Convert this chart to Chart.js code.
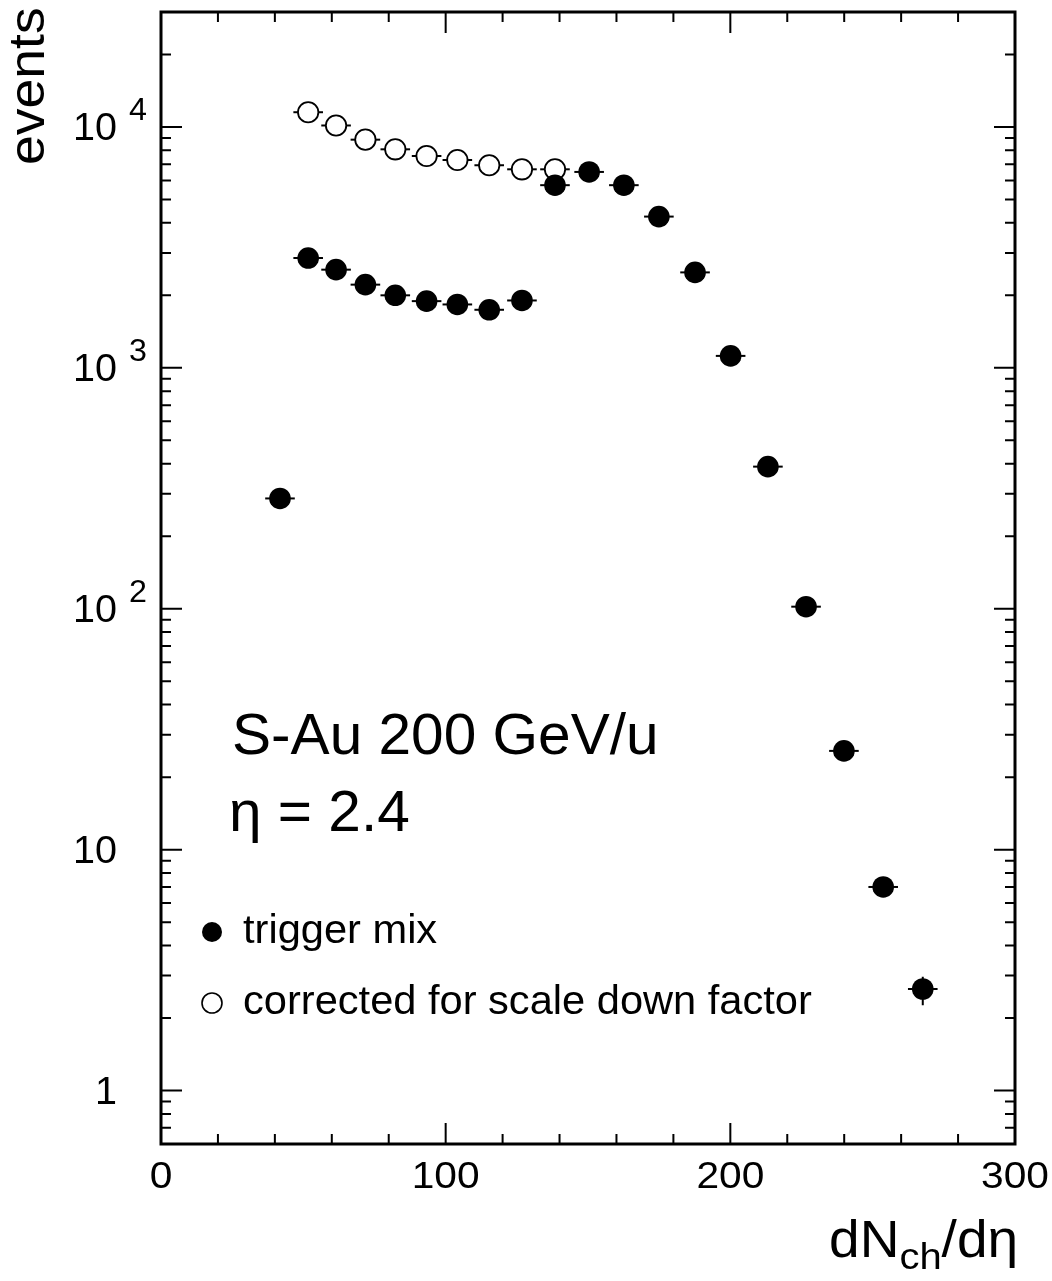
<!DOCTYPE html>
<html>
<head>
<meta charset="utf-8">
<script src="https://cdn.jsdelivr.net/npm/chart.js@4.4.1/dist/chart.umd.min.js"></script>
<style>
  html, body { margin: 0; padding: 0; background: #fff; overflow: hidden; }
  canvas { display: block; }
</style>
</head>
<body>
<canvas id="chartEvents" width="1052" height="1281"></canvas>
<script>
// trigger mix (filled circles)
const triggerX = [41.8, 51.7, 61.5, 71.8, 82.3, 93.3, 104.1, 115.3, 126.8, 138.4,
                  150.4, 162.6, 174.9, 187.6, 200.1, 213.2, 226.6, 239.9, 253.7, 267.6];
const triggerY = [287, 2857, 2556, 2215, 2000, 1892, 1833, 1742, 1904, 5731,
                  6505, 5731, 4245, 2490, 1121, 389, 102, 25.7, 7.0, 2.64];
// vertical errors, only visible on the last point
const triggerYLow  = [null, null, null, null, null, null, null, null, null, null,
                      null, null, null, null, null, null, null, null, null, 2.26];
const triggerYHigh = [null, null, null, null, null, null, null, null, null, null,
                      null, null, null, null, null, null, null, null, null, 2.97];

// corrected for scale down factor (open circles)
const correctedX = [51.7, 61.5, 71.8, 82.3, 93.3, 104.1, 115.3, 126.8, 138.4];
const correctedY = [11510, 10140, 8855, 8075, 7574, 7292, 6934, 6670, 6670];

const binHalfWidth = 5.2;

// axes
const xTickValues = [0, 100, 200, 300];
const xTickLabels = ['0', '100', '200', '300'];
const xMinorStep = 20;
const yTickValues = [1, 10, 100, 1000, 10000];
const yTickBase = ['1', '10', '10', '10', '10'];
const yTickExp = ['', '', '2', '3', '4'];

const FONT = '"Liberation Sans", Arial, Helvetica, sans-serif';

function drawText(ctx, str, x, y, size, align, wide) {
    ctx.font = size + 'px ' + FONT;
    const w = ctx.measureText(str).width * wide;
    let x0 = x;
    if (align === 'right') x0 = x - w;
    if (align === 'center') x0 = x - w / 2;
    ctx.save();
    ctx.translate(x0, y);
    ctx.scale(wide, 1);
    ctx.textAlign = 'left';
    ctx.textBaseline = 'alphabetic';
    ctx.fillStyle = '#000';
    ctx.fillText(str, 0, 0);
    ctx.restore();
    return w;
}

const errorBars = {
    id: 'errorBars',
    beforeDatasetsDraw(chart) {
        const ctx = chart.ctx, xs = chart.scales.x, ys = chart.scales.y;
        ctx.save();
        ctx.strokeStyle = '#000';
        ctx.lineWidth = 2;
        chart.data.datasets.forEach(ds => {
            ds.data.forEach(p => {
                const py = ys.getPixelForValue(p.y);
                ctx.beginPath();
                ctx.moveTo(xs.getPixelForValue(p.x - binHalfWidth), py);
                ctx.lineTo(xs.getPixelForValue(p.x + binHalfWidth), py);
                if (p.yLow != null) {
                    const px = xs.getPixelForValue(p.x);
                    ctx.moveTo(px, ys.getPixelForValue(p.yLow));
                    ctx.lineTo(px, ys.getPixelForValue(p.yHigh));
                }
                ctx.stroke();
            });
        });
        ctx.restore();
    }
};

const frame = {
    id: 'frame',
    afterDraw(chart) {
        const ctx = chart.ctx, a = chart.chartArea;
        const xs = chart.scales.x, ys = chart.scales.y;
        ctx.save();
        ctx.strokeStyle = '#000';

        // ticks
        ctx.lineWidth = 2;
        ctx.beginPath();
        for (let v = xs.min; v <= xs.max; v += xMinorStep) {
            const px = xs.getPixelForValue(v);
            const len = xTickValues.includes(v) ? 21 : 10;
            ctx.moveTo(px, a.bottom); ctx.lineTo(px, a.bottom - len);
            ctx.moveTo(px, a.top); ctx.lineTo(px, a.top + len);
        }
        for (let d = 0.1; d <= 10000; d *= 10) {
            for (let m = 1; m <= 9; m++) {
                const v = Math.round(m * d * 1000) / 1000;
                if (v <= ys.min || v >= ys.max) continue;
                const py = ys.getPixelForValue(v);
                const len = m === 1 ? 21 : 10;
                ctx.moveTo(a.left, py); ctx.lineTo(a.left + len, py);
                ctx.moveTo(a.right, py); ctx.lineTo(a.right - len, py);
            }
        }
        ctx.stroke();

        // frame
        ctx.lineWidth = 3;
        ctx.strokeRect(a.left, a.top, a.right - a.left, a.bottom - a.top);

        // x labels
        xTickValues.forEach((v, i) => {
            drawText(ctx, xTickLabels[i], xs.getPixelForValue(v), 1188, 37, 'center', 1.1);
        });
        // y labels
        yTickValues.forEach((v, i) => {
            const py = ys.getPixelForValue(v);
            drawText(ctx, yTickBase[i], 117, py + 13.5, 38, 'right', 1.04);
            if (yTickExp[i]) drawText(ctx, yTickExp[i], 129, py - 7, 31, 'left', 1.04);
        });

        // axis titles
        ctx.save();
        ctx.translate(44, 165);
        ctx.rotate(-Math.PI / 2);
        drawText(ctx, 'events', 0, 0, 50, 'left', 1.07);
        ctx.restore();

        let x = 829;
        x += drawText(ctx, 'dN', x, 1257, 51, 'left', 1.08);
        x += drawText(ctx, 'ch', x, 1269, 37, 'left', 1.08);
        drawText(ctx, '/d\u03B7', x, 1257, 51, 'left', 1.08);

        // annotations
        drawText(ctx, 'S-Au 200 GeV/u', 232, 754, 58, 'left', 1.01);
        drawText(ctx, '\u03B7 = 2.4', 229, 831, 58, 'left', 1.01);

        // legend
        const rows = [932, 1003];
        chart.data.datasets.forEach((ds, i) => {
            ctx.beginPath();
            ctx.arc(212, rows[i], 10, 0, Math.PI * 2);
            ctx.fillStyle = ds.pointBackgroundColor;
            ctx.fill();
            if (ds.pointBorderWidth > 0) {
                ctx.lineWidth = 1.6;
                ctx.strokeStyle = ds.pointBorderColor;
                ctx.stroke();
            }
            drawText(ctx, ds.label, 243, rows[i] + 10.5, 40, 'left', 1.04);
        });
        ctx.restore();
    }
};

new Chart(document.getElementById('chartEvents'), {
    type: 'scatter',
    data: {
        datasets: [
            {
                label: 'trigger mix',
                data: triggerX.map((x, i) => ({ x: x, y: triggerY[i], yLow: triggerYLow[i], yHigh: triggerYHigh[i] })),
                pointRadius: 10.8,
                pointBackgroundColor: '#000',
                pointBorderColor: '#000',
                pointBorderWidth: 0
            },
            {
                label: 'corrected for scale down factor',
                data: correctedX.map((x, i) => ({ x: x, y: correctedY[i] })),
                pointRadius: 10.2,
                pointBackgroundColor: '#fff',
                pointBorderColor: '#000',
                pointBorderWidth: 1.8
            }
        ]
    },
    options: {
        responsive: false,
        animation: false,
        events: [],
        devicePixelRatio: 1,
        layout: { padding: { left: 161, top: 6, right: 37, bottom: 137 } },
        plugins: { legend: { display: false }, tooltip: { enabled: false } },
        scales: {
            x: { type: 'linear', min: 0, max: 300, display: false },
            y: { type: 'logarithmic', min: 0.6, max: 30000, display: false }
        }
    },
    plugins: [errorBars, frame]
});
</script>
</body>
</html>
